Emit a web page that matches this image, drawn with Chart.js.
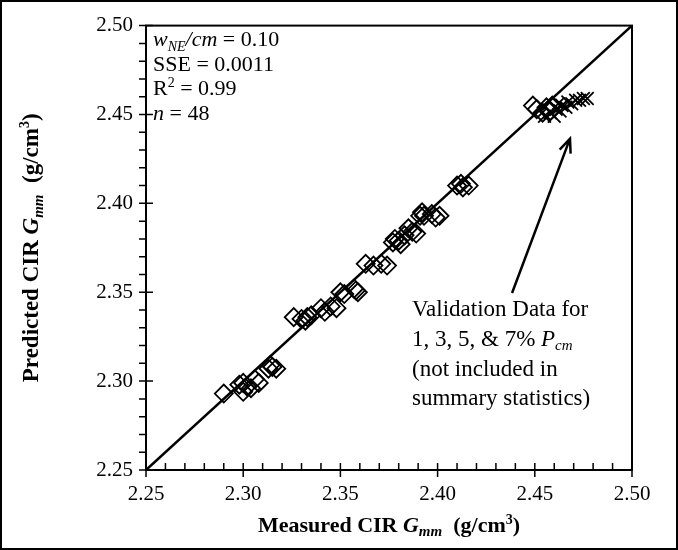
<!DOCTYPE html>
<html>
<head>
<meta charset="utf-8">
<script src="https://cdn.jsdelivr.net/npm/chart.js@4/dist/chart.umd.min.js"></script>
<style>
  html, body { margin: 0; padding: 0; background: #fff; }
  #wrap { width: 678px; height: 550px; }
</style>
</head>
<body>
<div id="wrap"><canvas id="chart" width="678" height="550"></canvas></div>
<script>
// Measured vs predicted CIR Gmm (g/cm3)
const measured = [
    2.290, 2.298, 2.300, 2.300, 2.302, 2.304, 2.306, 2.308, 2.313, 2.314, 2.315, 2.317,
    2.326, 2.330, 2.332, 2.333, 2.335, 2.340, 2.342, 2.345, 2.348, 2.350, 2.352, 2.357, 2.358, 2.359,
    2.363, 2.367, 2.371, 2.374, 2.377, 2.378, 2.380, 2.381, 2.383, 2.385, 2.387, 2.389, 2.391, 2.392, 2.393, 2.397, 2.399, 2.401,
    2.410, 2.412, 2.413, 2.416
];
const predicted = [
    2.293, 2.298, 2.294, 2.299, 2.297, 2.296, 2.301, 2.299, 2.307, 2.309, 2.308, 2.307,
    2.336, 2.335, 2.334, 2.336, 2.337, 2.341, 2.339, 2.342, 2.341, 2.350, 2.349, 2.352, 2.351, 2.350,
    2.366, 2.365, 2.366, 2.365, 2.378, 2.380, 2.379, 2.377, 2.382, 2.386, 2.384, 2.383, 2.393, 2.395, 2.393, 2.394, 2.392, 2.393,
    2.410, 2.411, 2.409, 2.410
];
// validation data (1, 3, 5, 7% Pcm)
const valDiamondX = [2.449, 2.451, 2.454, 2.456, 2.458, 2.459];
const valDiamondY = [2.455, 2.453, 2.451, 2.454, 2.452, 2.455];
const valCrossX = [2.455, 2.458, 2.460, 2.461, 2.462, 2.463, 2.464, 2.466, 2.467, 2.469, 2.471, 2.473, 2.475, 2.477];
const valCrossY = [2.449, 2.451, 2.449, 2.453, 2.456, 2.452, 2.455, 2.454, 2.457, 2.456, 2.458, 2.458, 2.459, 2.459];
const lineOfEquality = [2.25, 2.50];
const axisMin = 2.25, axisMax = 2.50;

const arrowFrom = { x: 2.4383, y: 2.3496 };
const arrowTo = { x: 2.4681, y: 2.4364 };

const SERIF = '"Liberation Serif", "DejaVu Serif", serif';

const toPoints = (xs, ys) => xs.map((x, i) => ({ x: x, y: ys[i] }));

// draw a line of text made of styled pieces
function drawRuns(ctx, runs, x, y) {
    runs.forEach(r => {
        ctx.font = r.font;
        ctx.fillText(r.text, x, y + (r.dy || 0));
        x += ctx.measureText(r.text).width;
    });
    return x;
}
function runsWidth(ctx, runs) {
    let w = 0;
    runs.forEach(r => { ctx.font = r.font; w += ctx.measureText(r.text).width; });
    return w;
}

function titleRuns(first, size) {
    const b = `bold ${size}px ${SERIF}`, bi = `italic bold ${size}px ${SERIF}`;
    const bis = `italic bold ${Math.round(size * 0.66)}px ${SERIF}`, bs = `bold ${Math.round(size * 0.62)}px ${SERIF}`;
    return [
        { text: first + ' CIR ', font: b },
        { text: 'G', font: bi },
        { text: 'mm', font: bis, dy: size * 0.2 },
        { text: '  (g/cm', font: b },
        { text: '3', font: bs, dy: -size * 0.38 },
        { text: ')', font: b }
    ];
}

const framePlugin = {
    id: 'frame',
    afterDraw(chart) {
        const ctx = chart.ctx;
        const a = chart.chartArea;
        const xs = chart.scales.x, ys = chart.scales.y;
        ctx.save();
        ctx.strokeStyle = '#000';
        ctx.fillStyle = '#000';

        // plot box
        ctx.lineWidth = 2;
        ctx.strokeRect(a.left, a.top, a.right - a.left, a.bottom - a.top);

        // tick marks: majors cross the axis, minors on one side
        ctx.lineWidth = 1.5;
        ctx.beginPath();
        xs.ticks.forEach(t => {
            const px = xs.getPixelForValue(t.value);
            const major = Math.round(t.value * 100) % 5 === 0;
            ctx.moveTo(px, a.bottom - 7);
            ctx.lineTo(px, a.bottom + (major ? 7 : 0));
        });
        ys.ticks.forEach(t => {
            const py = ys.getPixelForValue(t.value);
            const major = Math.round(t.value * 100) % 5 === 0;
            ctx.moveTo(a.left - 7, py);
            ctx.lineTo(a.left + (major ? 7 : 0), py);
        });
        ctx.stroke();

        // outer border of the figure
        ctx.lineWidth = 2;
        ctx.strokeRect(1, 1, chart.width - 2, chart.height - 2);

        // axis titles
        ctx.textBaseline = 'alphabetic';
        const xr = titleRuns('Measured', 22);
        drawRuns(ctx, xr, (a.left + a.right) / 2 - runsWidth(ctx, xr) / 2, 532);
        const yr = titleRuns('Predicted', 23);
        ctx.save();
        ctx.translate(38, (a.top + a.bottom) / 2);
        ctx.rotate(-Math.PI / 2);
        drawRuns(ctx, yr, -runsWidth(ctx, yr) / 2, 0);
        ctx.restore();

        // summary statistics
        const r = '22px ' + SERIF, it = 'italic 22px ' + SERIF, its = 'italic 14px ' + SERIF, sm = '14px ' + SERIF;
        const sx = a.left + 7;
        drawRuns(ctx, [{ text: 'w', font: it }, { text: 'NE', font: its, dy: 5 }, { text: '/cm', font: it }, { text: ' = 0.10', font: r }], sx, 46);
        drawRuns(ctx, [{ text: 'SSE = 0.0011', font: r }], sx, 71);
        drawRuns(ctx, [{ text: 'R', font: r }, { text: '2', font: sm, dy: -8 }, { text: ' = 0.99', font: r }], sx, 95);
        drawRuns(ctx, [{ text: 'n', font: it }, { text: ' = 48', font: r }], sx, 120);

        // validation note
        const nx = 412, nf = '23px ' + SERIF;
        drawRuns(ctx, [{ text: 'Validation Data for', font: nf }], nx, 316);
        drawRuns(ctx, [{ text: '1, 3, 5, & 7% ', font: nf }, { text: 'P', font: 'italic 23px ' + SERIF }, { text: 'cm', font: 'italic 15px ' + SERIF, dy: 4 }], nx, 346);
        drawRuns(ctx, [{ text: '(not included in', font: nf }], nx, 376);
        drawRuns(ctx, [{ text: 'summary statistics)', font: nf }], nx, 405);

        // arrow
        const x0 = xs.getPixelForValue(arrowFrom.x), y0 = ys.getPixelForValue(arrowFrom.y);
        const x1 = xs.getPixelForValue(arrowTo.x), y1 = ys.getPixelForValue(arrowTo.y);
        const ang = Math.atan2(y1 - y0, x1 - x0);
        ctx.lineWidth = 2.5;
        ctx.beginPath();
        ctx.moveTo(x0, y0);
        ctx.lineTo(x1, y1);
        ctx.moveTo(x1 - 15 * Math.cos(ang - 0.4), y1 - 15 * Math.sin(ang - 0.4));
        ctx.lineTo(x1, y1);
        ctx.lineTo(x1 - 15 * Math.cos(ang + 0.4), y1 - 15 * Math.sin(ang + 0.4));
        ctx.stroke();
        ctx.restore();
    }
};

const tickLabel = v => (Math.round(v * 100) % 5 === 0 ? v.toFixed(2) : '');

new Chart(document.getElementById('chart'), {
    type: 'scatter',
    data: {
        datasets: [
            {
                type: 'line',
                data: toPoints(lineOfEquality, lineOfEquality),
                borderColor: '#000',
                borderWidth: 2.5,
                pointRadius: 0,
                fill: false,
                order: 1
            },
            {
                data: toPoints(measured, predicted),
                pointStyle: 'rectRot',
                pointRadius: 9,
                borderColor: '#000',
                backgroundColor: 'rgba(0,0,0,0)',
                pointBorderWidth: 1.8,
                order: 2
            },
            {
                data: toPoints(valDiamondX, valDiamondY),
                pointStyle: 'rectRot',
                pointRadius: 9,
                borderColor: '#000',
                backgroundColor: 'rgba(0,0,0,0)',
                pointBorderWidth: 1.8,
                order: 2
            },
            {
                data: toPoints(valCrossX, valCrossY),
                pointStyle: 'crossRot',
                pointRadius: 9,
                borderColor: '#000',
                pointBorderWidth: 1.8,
                order: 2
            }
        ]
    },
    options: {
        responsive: false,
        animation: false,
        layout: { padding: { top: 18, right: 46, left: 0, bottom: 0 } },
        plugins: { legend: { display: false }, tooltip: { enabled: false } },
        scales: {
            x: {
                type: 'linear',
                min: axisMin, max: axisMax,
                afterFit: s => { s.height = 80; },
                grid: { display: false, drawTicks: false },
                border: { display: false },
                ticks: {
                    stepSize: 0.01, autoSkip: false, maxRotation: 0, padding: 12,
                    color: '#000', font: { family: SERIF, size: 21 },
                    callback: tickLabel
                }
            },
            y: {
                type: 'linear',
                min: axisMin, max: axisMax,
                afterFit: s => { s.width = 146; },
                grid: { display: false, drawTicks: false },
                border: { display: false },
                ticks: {
                    stepSize: 0.01, autoSkip: false, padding: 13,
                    color: '#000', font: { family: SERIF, size: 21 },
                    callback: tickLabel
                }
            }
        }
    },
    plugins: [framePlugin]
});
</script>
</body>
</html>
